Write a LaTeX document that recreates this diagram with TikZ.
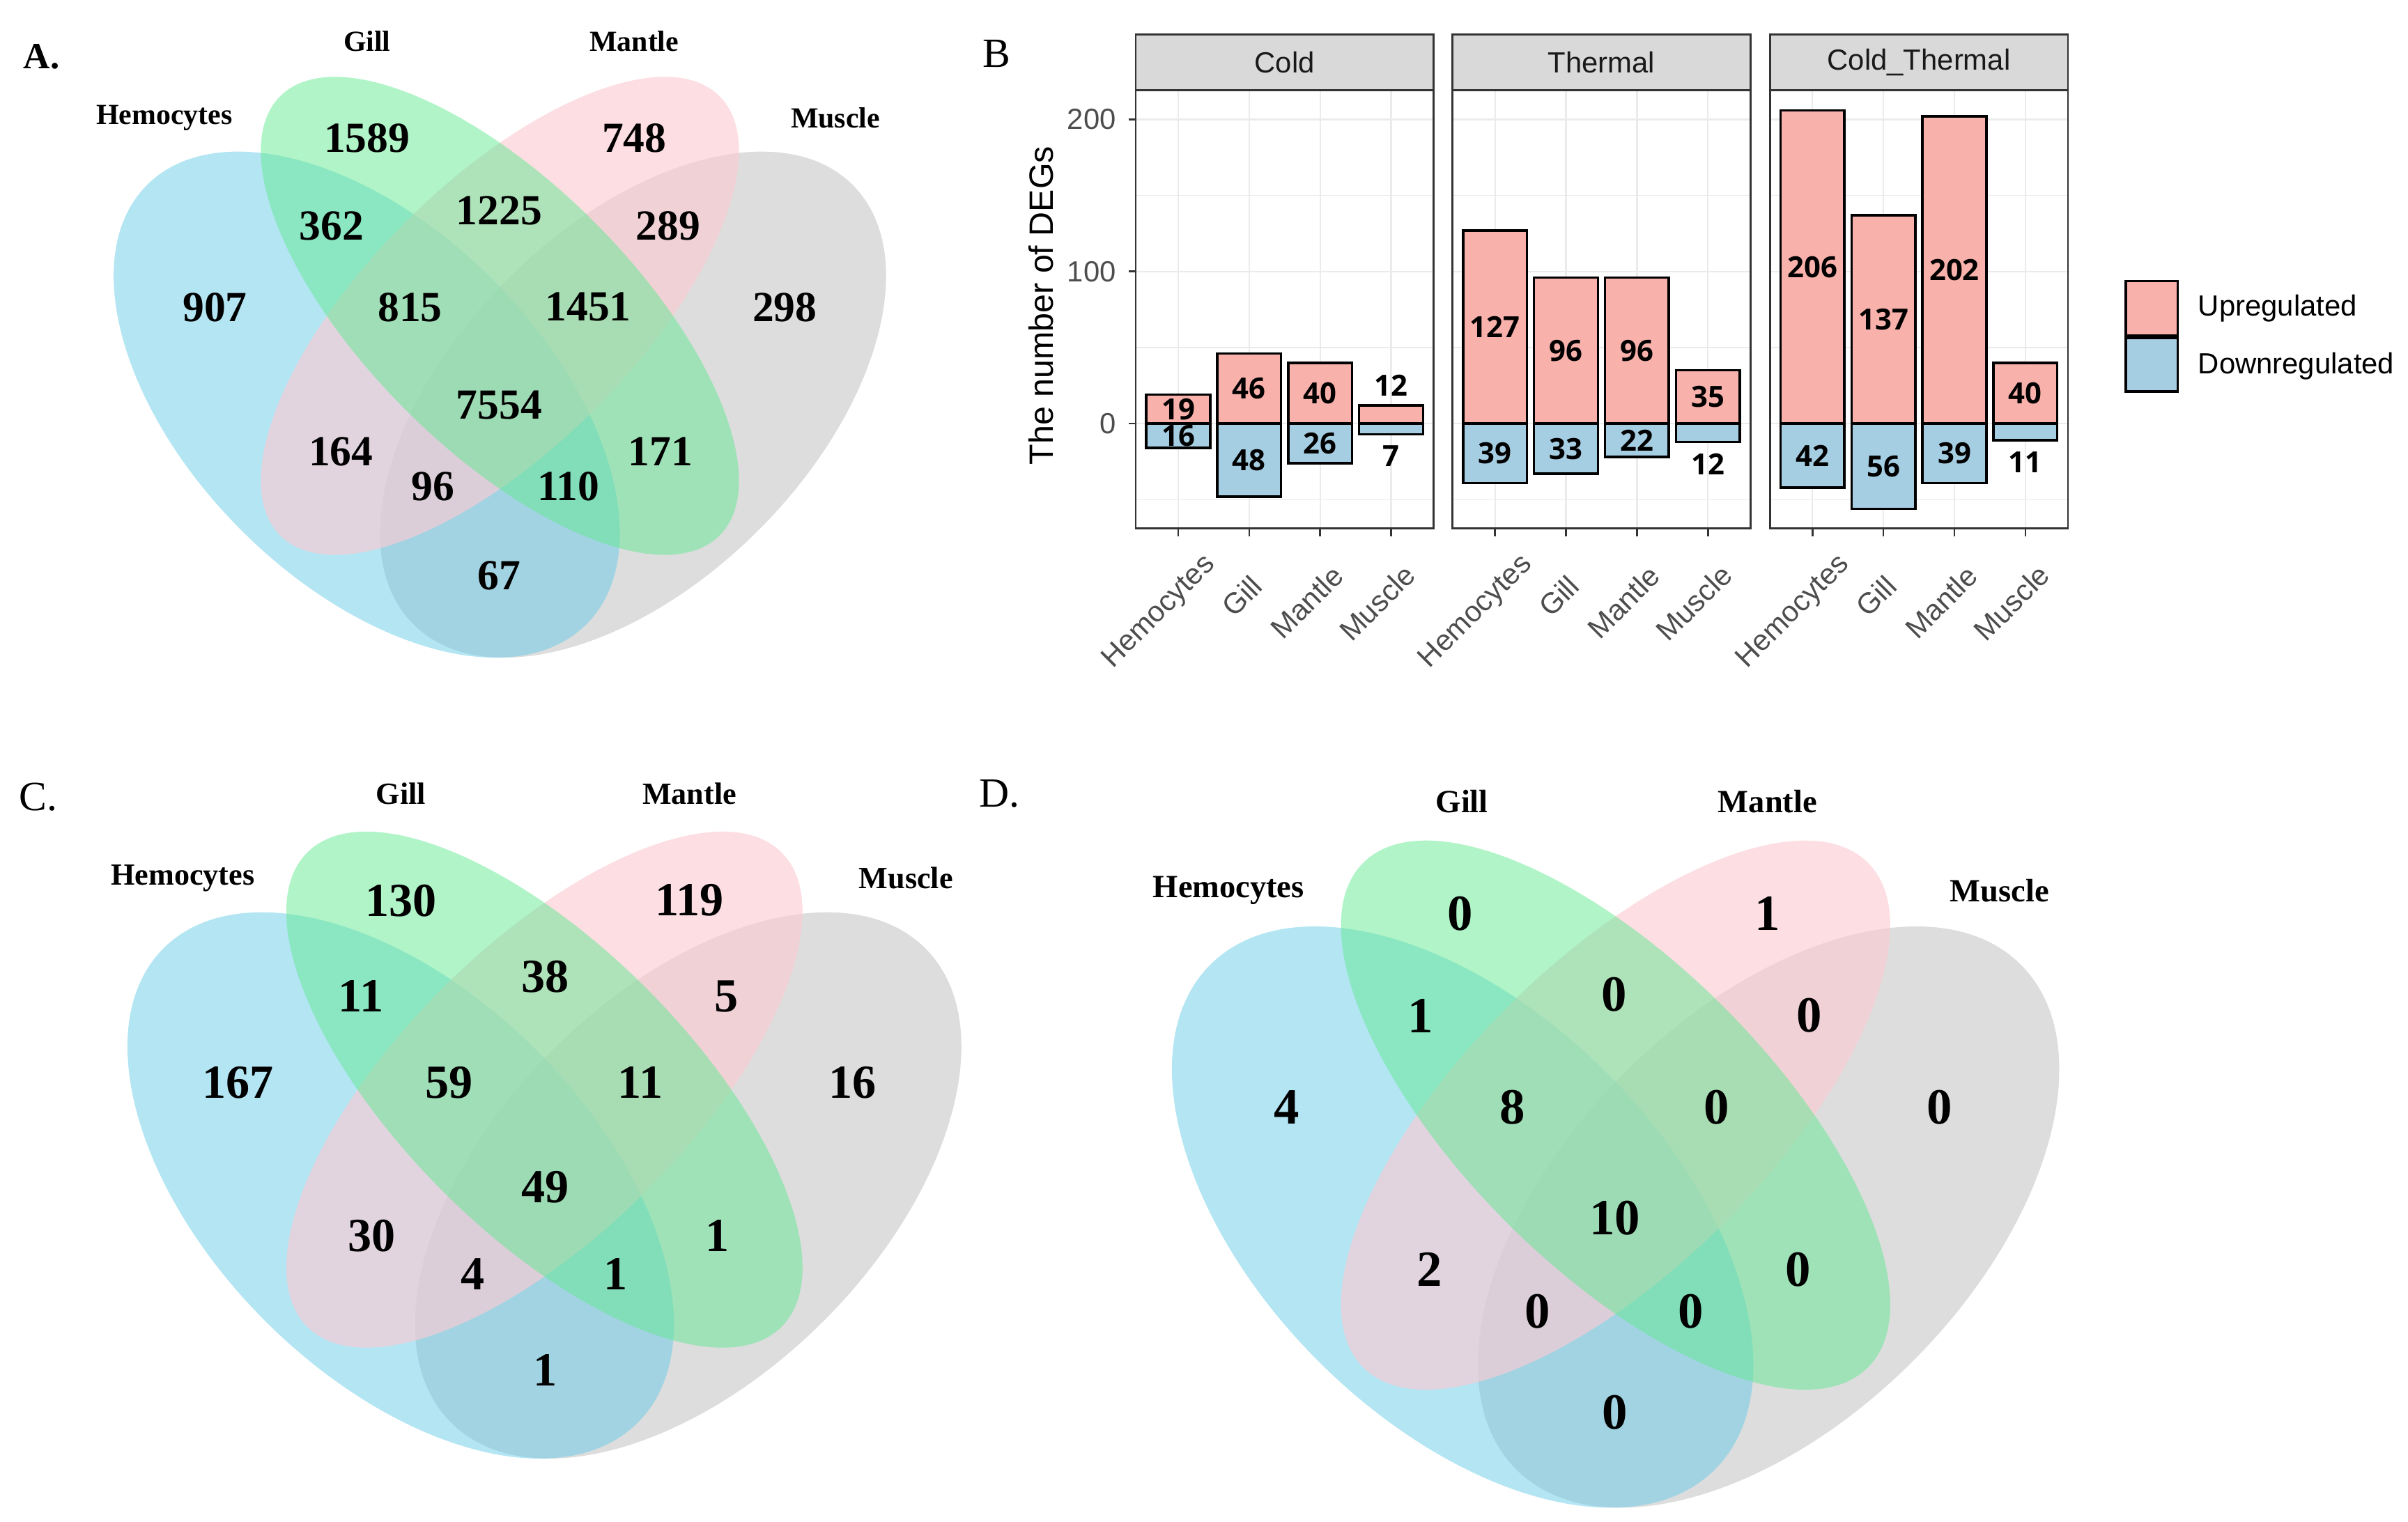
\documentclass[tikz,border=0pt]{standalone}
\usepackage{fontspec}
\setmainfont{Liberation Serif}
\setsansfont{Liberation Sans}
\newfontfamily\barfont{Open Sans}
\usepackage{xcolor}

\definecolor{hemblue}{RGB}{103,203,231}
\definecolor{gillgreen}{RGB}{97,233,145}
\definecolor{mantpink}{RGB}{251,204,212}
\definecolor{musgray}{RGB}{187,187,187}
\definecolor{upfill}{RGB}{249,177,172}
\definecolor{downfill}{RGB}{166,206,227}
\definecolor{stripgray}{RGB}{217,217,217}
\definecolor{gridgray}{RGB}{235,235,235}
\definecolor{framegray}{RGB}{51,51,51}
\definecolor{tickgray}{RGB}{77,77,77}

\begin{document}
\begin{tikzpicture}[x=0.2mm, y=-0.2mm,
    hemfill/.style={fill=hemblue, fill opacity=0.5},
    gillfill/.style={fill=gillgreen, fill opacity=0.5},
    mantfill/.style={fill=mantpink, fill opacity=0.65},
    musfill/.style={fill=musgray, fill opacity=0.5},
    numA/.style={inner sep=0pt, font=\fontsize{15.9}{18}\selectfont\bfseries},
    numC/.style={inner sep=0pt, font=\fontsize{17.6}{20}\selectfont\bfseries},
    numD/.style={inner sep=0pt, font=\fontsize{18.8}{21}\selectfont\bfseries},
    setA/.style={inner sep=0pt, font=\fontsize{10.8}{12}\selectfont\bfseries},
    setC/.style={inner sep=0pt, font=\fontsize{11.4}{13}\selectfont\bfseries},
    setD/.style={inner sep=0pt, font=\fontsize{12}{14}\selectfont\bfseries},
    letter/.style={inner sep=0pt, font=\fontsize{15.4}{17}\selectfont},
    minorgrid/.style={draw=gridgray, line width=0.3pt},
    majorgrid/.style={draw=gridgray, line width=0.57pt},
    upbar/.style={draw=black, fill=upfill, line width=0.9pt},
    downbar/.style={draw=black, fill=downfill, line width=0.9pt},
    frame/.style={draw=framegray, line width=0.68pt},
    strip/.style={draw=framegray, fill=stripgray, line width=0.68pt},
    striptext/.style={inner sep=0pt, text=black!90, font=\sffamily\fontsize{10.8}{12}\selectfont},
    ticktext/.style={inner sep=0pt, text=tickgray, font=\sffamily\fontsize{10.8}{12}\selectfont},
    legtext/.style={inner sep=0pt, font=\sffamily\fontsize{10.8}{12}\selectfont},
    barnum/.style={inner sep=0pt, font=\barfont\fontsize{10.8}{12}\selectfont\bfseries}]

\useasboundingbox (0,0) rectangle (1568,991);

% ---------------- A. all genes
\begin{scope}[shift={(36.5,535.2)}, x=115.6mm, y=115.6mm]
  \fill[musfill, rotate around={45:(0.65,0.47)}] (0.65,0.47) ellipse [x radius=0.35, y radius=0.2];
  \fill[hemfill, rotate around={-45:(0.35,0.47)}] (0.35,0.47) ellipse [x radius=0.35, y radius=0.2];
  \fill[mantfill, rotate around={45:(0.5,0.57)}] (0.5,0.57) ellipse [x radius=0.35, y radius=0.15];
  \fill[gillfill, rotate around={-45:(0.5,0.57)}] (0.5,0.57) ellipse [x radius=0.35, y radius=0.15];
\end{scope}

\node (A) at (27,37) [letter, font=\fontsize{13.7}{16}\selectfont\bfseries] {A.};
\node (A-gill) at (239,27) [setA] {Gill};
\node (A-mant) at (413,27) [setA] {Mantle};
\node (A-hem) at (107,77) [setA] {Hemocytes};
\node (A-mus) at (544,77) [setA] {Muscle};

\node (A-g) at (239,90) [numA] {1589};
\node (A-m) at (413,90) [numA] {748};
\node (A-hg) at (216,147) [numA] {362};
\node (A-gm) at (325,137) [numA] {1225};
\node (A-mu) at (435,147) [numA] {289};
\node (A-h) at (140,200) [numA] {907};
\node (A-hgm) at (267,200) [numA] {815};
\node (A-gmu) at (383,200) [numA] {1451};
\node (A-u) at (511,200) [numA] {298};
\node (A-all) at (325,264) [numA] {7554};
\node (A-hm) at (222,294) [numA] {164};
\node (A-gu) at (430,294) [numA] {171};
\node (A-hmu) at (282,317) [numA] {96};
\node (A-hgu) at (370,317) [numA] {110};
\node (A-hu) at (325,375) [numA] {67};

% ---------------- C.
\begin{scope}[shift={(42.5,1065.4)}, x=124.8mm, y=124.8mm]
  \fill[musfill, rotate around={45:(0.65,0.47)}] (0.65,0.47) ellipse [x radius=0.35, y radius=0.2];
  \fill[hemfill, rotate around={-45:(0.35,0.47)}] (0.35,0.47) ellipse [x radius=0.35, y radius=0.2];
  \fill[mantfill, rotate around={45:(0.5,0.57)}] (0.5,0.57) ellipse [x radius=0.35, y radius=0.15];
  \fill[gillfill, rotate around={-45:(0.5,0.57)}] (0.5,0.57) ellipse [x radius=0.35, y radius=0.15];
\end{scope}

\node (C) at (25,519) [letter] {C.};
\node (C-gill) at (261,517) [setC] {Gill};
\node (C-mant) at (449,517) [setC] {Mantle};
\node (C-hem) at (119,572) [setC] {Hemocytes};
\node (C-mus) at (590,572) [setC] {Muscle};

\node (C-g) at (261,586.5) [numC] {130};
\node (C-m) at (449,586.5) [numC] {119};
\node (C-hg) at (235,649) [numC] {11};
\node (C-gm) at (355,636) [numC] {38};
\node (C-mu) at (473,649) [numC] {5};
\node (C-h) at (155,705) [numC] {167};
\node (C-hgm) at (292.5,705) [numC] {59};
\node (C-gmu) at (417,705) [numC] {11};
\node (C-u) at (555,705) [numC] {16};
\node (C-all) at (355,773) [numC] {49};
\node (C-hm) at (242,805) [numC] {30};
\node (C-gu) at (467,805) [numC] {1};
\node (C-hmu) at (308,830) [numC] {4};
\node (C-hgu) at (401,830) [numC] {1};
\node (C-hu) at (355,892.5) [numC] {1};

% ---------------- D.
\begin{scope}[shift={(720,1104.8)}, x=132.8mm, y=132.8mm]
  \fill[musfill, rotate around={45:(0.65,0.47)}] (0.65,0.47) ellipse [x radius=0.35, y radius=0.2];
  \fill[hemfill, rotate around={-45:(0.35,0.47)}] (0.35,0.47) ellipse [x radius=0.35, y radius=0.2];
  \fill[mantfill, rotate around={45:(0.5,0.57)}] (0.5,0.57) ellipse [x radius=0.35, y radius=0.15];
  \fill[gillfill, rotate around={-45:(0.5,0.57)}] (0.5,0.57) ellipse [x radius=0.35, y radius=0.15];
\end{scope}

\node (D) at (651,517) [letter] {D.};
\node (D-gill) at (952,522) [setD] {Gill};
\node (D-mant) at (1151,522) [setD] {Mantle};
\node (D-hem) at (800,580) [setD] {Hemocytes};
\node (D-mus) at (1302,580) [setD] {Muscle};

\node (D-g) at (951,595) [numD] {0};
\node (D-m) at (1151,595) [numD] {1};
\node (D-hg) at (925,661.5) [numD] {1};
\node (D-gm) at (1051,647.5) [numD] {0};
\node (D-mu) at (1178,661.5) [numD] {0};
\node (D-h) at (838,721) [numD] {4};
\node (D-hgm) at (985,721) [numD] {8};
\node (D-gmu) at (1117.6,721) [numD] {0};
\node (D-u) at (1263,721) [numD] {0};
\node (D-all) at (1051.5,793.5) [numD] {10};
\node (D-hm) at (931,827) [numD] {2};
\node (D-gu) at (1171,827) [numD] {0};
\node (D-hmu) at (1001,854) [numD] {0};
\node (D-hgu) at (1101,854) [numD] {0};
\node (D-hu) at (1051.5,920) [numD] {0};

% ---------------- B. bar chart
\node (B) at (649,35) [letter] {B};
\node (ytitle) at (678,199) [rotate=90, inner sep=0pt, font=\sffamily\fontsize{12.5}{14}\selectfont] {The number of DEGs};

% Cold
\begin{scope}[shift={(739.5,275.9)}, x=9.24mm, y=0.1981mm]
  \draw[minorgrid] (0,-50) -- (4.2,-50) (0,50) -- (4.2,50) (0,150) -- (4.2,150);
  \draw[majorgrid] (0,0) -- (4.2,0) (0,100) -- (4.2,100) (0,200) -- (4.2,200)
    (0.6,-68.9) -- (0.6,219.3) (1.6,-68.9) -- (1.6,219.3) (2.6,-68.9) -- (2.6,219.3) (3.6,-68.9) -- (3.6,219.3);
  \draw[upbar] (0.15,0) rectangle (1.05,19) (1.15,0) rectangle (2.05,46) (2.15,0) rectangle (3.05,40) (3.15,0) rectangle (4.05,12);
  \draw[downbar] (0.15,0) rectangle (1.05,-16) (1.15,0) rectangle (2.05,-48) (2.15,0) rectangle (3.05,-26) (3.15,0) rectangle (4.05,-7);
  \node (cold-hem-up) at (0.6,9.5) [barnum] {19};
  \node (cold-gill-up) at (1.6,23) [barnum] {46};
  \node (cold-mant-up) at (2.6,20) [barnum] {40};
  \node (cold-mus-up) at (3.6,25) [barnum] {12};
  \node (cold-hem-dn) at (0.6,-8) [barnum] {16};
  \node (cold-gill-dn) at (1.6,-24) [barnum] {48};
  \node (cold-mant-dn) at (2.6,-13) [barnum] {26};
  \node (cold-mus-dn) at (3.6,-21.5) [barnum] {7};
  \draw[frame] (0,-68.9) rectangle (4.2,219.3);
  \draw[strip] (0,219.3) rectangle (4.2,255.9);
  \node (cold) at (2.1,237.6) [striptext] {Cold};
  \draw[frame] (0.6,-68.9) -- (0.6,-74) (1.6,-68.9) -- (1.6,-74) (2.6,-68.9) -- (2.6,-74) (3.6,-68.9) -- (3.6,-74);
  \draw[frame] (-0.1,0) -- (0,0) (-0.1,100) -- (0,100) (-0.1,200) -- (0,200);
  \node (y0) at (-0.27,0) [ticktext, anchor=east] {0};
  \node (y100) at (-0.27,100) [ticktext, anchor=east] {100};
  \node (y200) at (-0.27,200) [ticktext, anchor=east] {200};
  \node (cold-x1) at (1.137,-93.2) [ticktext, rotate=45, anchor=base east] {Hemocytes};
  \node (cold-x2) at (1.816,-108.2) [ticktext, rotate=45, anchor=base east] {Gill};
  \node (cold-x3) at (2.957,-101.6) [ticktext, rotate=45, anchor=base east] {Mantle};
  \node (cold-x4) at (3.972,-100.9) [ticktext, rotate=45, anchor=base east] {Muscle};
\end{scope}

% Thermal
\begin{scope}[shift={(945.8,275.9)}, x=9.24mm, y=0.1981mm]
  \draw[minorgrid] (0,-50) -- (4.2,-50) (0,50) -- (4.2,50) (0,150) -- (4.2,150);
  \draw[majorgrid] (0,0) -- (4.2,0) (0,100) -- (4.2,100) (0,200) -- (4.2,200)
    (0.6,-68.9) -- (0.6,219.3) (1.6,-68.9) -- (1.6,219.3) (2.6,-68.9) -- (2.6,219.3) (3.6,-68.9) -- (3.6,219.3);
  \draw[upbar] (0.15,0) rectangle (1.05,127) (1.15,0) rectangle (2.05,96) (2.15,0) rectangle (3.05,96) (3.15,0) rectangle (4.05,35);
  \draw[downbar] (0.15,0) rectangle (1.05,-39) (1.15,0) rectangle (2.05,-33) (2.15,0) rectangle (3.05,-22) (3.15,0) rectangle (4.05,-12);
  \node (th-hem-up) at (0.6,63.5) [barnum] {127};
  \node (th-gill-up) at (1.6,48) [barnum] {96};
  \node (th-mant-up) at (2.6,48) [barnum] {96};
  \node (th-mus-up) at (3.6,17.5) [barnum] {35};
  \node (th-hem-dn) at (0.6,-19.5) [barnum] {39};
  \node (th-gill-dn) at (1.6,-16.5) [barnum] {33};
  \node (th-mant-dn) at (2.6,-11) [barnum] {22};
  \node (th-mus-dn) at (3.6,-26.5) [barnum] {12};
  \draw[frame] (0,-68.9) rectangle (4.2,219.3);
  \draw[strip] (0,219.3) rectangle (4.2,255.9);
  \node (thermal) at (2.1,237.6) [striptext] {Thermal};
  \draw[frame] (0.6,-68.9) -- (0.6,-74) (1.6,-68.9) -- (1.6,-74) (2.6,-68.9) -- (2.6,-74) (3.6,-68.9) -- (3.6,-74);
  \node (th-x1) at (1.137,-93.2) [ticktext, rotate=45, anchor=base east] {Hemocytes};
  \node (th-x2) at (1.816,-108.2) [ticktext, rotate=45, anchor=base east] {Gill};
  \node (th-x3) at (2.957,-101.6) [ticktext, rotate=45, anchor=base east] {Mantle};
  \node (th-x4) at (3.972,-100.9) [ticktext, rotate=45, anchor=base east] {Muscle};
\end{scope}

% Cold_Thermal
\begin{scope}[shift={(1152.5,275.9)}, x=9.24mm, y=0.1981mm]
  \draw[minorgrid] (0,-50) -- (4.2,-50) (0,50) -- (4.2,50) (0,150) -- (4.2,150);
  \draw[majorgrid] (0,0) -- (4.2,0) (0,100) -- (4.2,100) (0,200) -- (4.2,200)
    (0.6,-68.9) -- (0.6,219.3) (1.6,-68.9) -- (1.6,219.3) (2.6,-68.9) -- (2.6,219.3) (3.6,-68.9) -- (3.6,219.3);
  \draw[upbar] (0.15,0) rectangle (1.05,206) (1.15,0) rectangle (2.05,137) (2.15,0) rectangle (3.05,202) (3.15,0) rectangle (4.05,40);
  \draw[downbar] (0.15,0) rectangle (1.05,-42) (1.15,0) rectangle (2.05,-56) (2.15,0) rectangle (3.05,-39) (3.15,0) rectangle (4.05,-11);
  \node (ct-hem-up) at (0.6,103) [barnum] {206};
  \node (ct-gill-up) at (1.6,68.5) [barnum] {137};
  \node (ct-mant-up) at (2.6,101) [barnum] {202};
  \node (ct-mus-up) at (3.6,20) [barnum] {40};
  \node (ct-hem-dn) at (0.6,-21) [barnum] {42};
  \node (ct-gill-dn) at (1.6,-28) [barnum] {56};
  \node (ct-mant-dn) at (2.6,-19.5) [barnum] {39};
  \node (ct-mus-dn) at (3.6,-25.5) [barnum] {11};
  \draw[frame] (0,-68.9) rectangle (4.2,219.3);
  \draw[strip] (0,219.3) rectangle (4.2,255.9);
  \node (coldthermal) at (2.1,237.6) [striptext] {Cold\_Thermal};
  \draw[frame] (0.6,-68.9) -- (0.6,-74) (1.6,-68.9) -- (1.6,-74) (2.6,-68.9) -- (2.6,-74) (3.6,-68.9) -- (3.6,-74);
  \node (ct-x1) at (1.137,-93.2) [ticktext, rotate=45, anchor=base east] {Hemocytes};
  \node (ct-x2) at (1.816,-108.2) [ticktext, rotate=45, anchor=base east] {Gill};
  \node (ct-x3) at (2.957,-101.6) [ticktext, rotate=45, anchor=base east] {Mantle};
  \node (ct-x4) at (3.972,-100.9) [ticktext, rotate=45, anchor=base east] {Muscle};
\end{scope}

% legend
\draw[upbar] (1384.3,183) rectangle (1418,218.5);
\draw[downbar] (1384.3,220) rectangle (1418,255);
\node (up-key) at (1431,201) [legtext, anchor=west] {Upregulated};
\node (down-key) at (1431,238.5) [legtext, anchor=west] {Downregulated};

\end{tikzpicture}
\end{document}
